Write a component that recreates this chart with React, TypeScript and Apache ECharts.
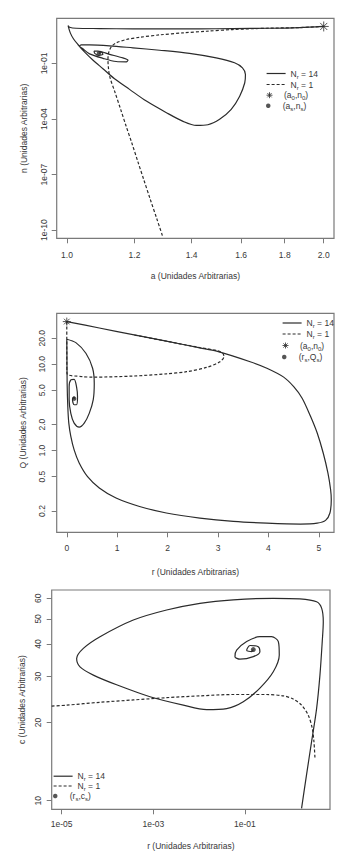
import React, { useEffect, useRef } from 'react';
import * as echarts from 'echarts';

// ---------- Panel 1: a vs n (log-log) ----------
const p1SolidA = [2.0, 1.874, 1.729, 1.565, 1.431, 1.308, 1.195, 1.092, 1.025, 1.007, 1.003, 1.009, 1.018, 1.030, 1.049, 1.073, 1.102, 1.137, 1.184, 1.239, 1.308, 1.368, 1.418, 1.463, 1.510, 1.558, 1.594, 1.616, 1.619, 1.606, 1.572, 1.496, 1.392, 1.284, 1.195, 1.122, 1.063, 1.039, 1.035, 1.044, 1.063, 1.102, 1.142, 1.174, 1.179, 1.163, 1.122, 1.087, 1.076, 1.078, 1.090, 1.102, 1.097, 1.090];
const p1SolidN = [10, 8.7, 8.0, 7.7, 7.4, 7.4, 7.4, 7.7, 8.0, 9.1, 11.2, 4.5, 2.1, 1.06, 0.41, 0.15, 0.052, 0.0149, 0.004, 9.3e-4, 2.2e-4, 7.5e-5, 4.5e-5, 4.9e-5, 9.6e-5, 3.3e-4, 0.0017, 0.0091, 0.0255, 0.058, 0.109, 0.20, 0.35, 0.52, 0.70, 0.90, 1.01, 1.01, 0.86, 0.62, 0.33, 0.19, 0.128, 0.123, 0.15, 0.20, 0.31, 0.46, 0.46, 0.35, 0.27, 0.32, 0.41, 0.35];
const p1DashA = [2.0, 1.874, 1.713, 1.565, 1.457, 1.368, 1.284, 1.217, 1.174, 1.142, 1.127, 1.119, 1.117, 1.118, 1.122, 1.139, 1.156, 1.173, 1.191, 1.212, 1.230, 1.252, 1.275, 1.296];
const p1DashN = [10, 8.7, 8.0, 6.8, 5.5, 4.5, 3.5, 2.6, 1.97, 1.30, 0.79, 0.38, 0.16, 0.072, 0.0207, 0.0026, 3.3e-4, 4.2e-5, 5.3e-6, 4.4e-7, 5.6e-8, 4.7e-9, 3.9e-10, 4e-11];
const p1Start = [2.0, 10];
const p1Steady = [1.09, 0.35];
const p1XTicks = [1.0, 1.2, 1.4, 1.6, 1.8, 2.0];
const p1XLabels = ['1.0', '1.2', '1.4', '1.6', '1.8', '2.0'];
const p1YTicks = [1e-1, 1e-4, 1e-7, 1e-10];
const p1YLabels = ['1e-01', '1e-04', '1e-07', '1e-10'];

// ---------- Panel 2: r vs Q (linear x, log y) ----------
const p2SolidR = [0, 0.645, 1.31, 1.975, 2.64, 2.972, 3.637, 3.969, 4.302, 4.501, 4.668, 4.834, 4.967, 5.086, 5.180, 5.233, 5.246, 5.219, 5.133, 4.967, 4.634, 3.969, 3.305, 2.640, 1.975, 1.443, 0.977, 0.645, 0.412, 0.246, 0.146, 0.080, 0.040, 0.020, 0.007, 0.003, 0.0, 0.18, 0.379, 0.512, 0.545, 0.525, 0.445, 0.346, 0.246, 0.146, 0.08, 0.047, 0.047, 0.08, 0.146, 0.193, 0.213, 0.193, 0.146, 0.113, 0.146, 0.15];
const p2SolidQ = [31.2, 26.3, 22.0, 18.5, 15.5, 14.2, 10.7, 9.0, 7.1, 5.5, 4.05, 2.5, 1.6, 0.94, 0.55, 0.353, 0.27, 0.19, 0.156, 0.145, 0.1415, 0.145, 0.152, 0.166, 0.19, 0.226, 0.283, 0.37, 0.50, 0.72, 1.02, 1.46, 2.08, 3.24, 6.0, 12.3, 19.5, 17.8, 13.4, 9.0, 6.0, 3.9, 2.7, 2.08, 1.87, 2.08, 2.7, 3.9, 5.5, 6.6, 6.7, 5.5, 4.2, 3.4, 3.4, 3.9, 4.2, 4.0];
const p2DashR = [0, 0, 0.003, 0.312, 0.512, 1.31, 1.975, 2.374, 2.773, 3.039, 3.118, 3.092, 2.972, 2.64, 1.975, 1.31];
const p2DashQ = [31.2, 20, 7.9, 7.2, 7.1, 7.3, 7.75, 8.2, 9.2, 10.7, 12.3, 13.4, 14.4, 15.6, 18.5, 22.0];
const p2Start = [0, 31.2];
const p2Steady = [0.146, 4.0];
const p2XTicks = [0, 1, 2, 3, 4, 5];
const p2XLabels = ['0', '1', '2', '3', '4', '5'];
const p2YTicks = [0.2, 0.5, 1, 2, 5, 10, 20];
const p2YLabels = ['0.2', '0.5', '1.0', '2.0', '5.0', '10.0', '20.0'];

// ---------- Panel 3: r vs c (log-log) ----------
const p3SolidR = [1.72, 2.21, 2.85, 3.66, 4.33, 4.86, 5.12, 4.71, 3.66, 1.58, 0.415, 0.0556, 0.0104, 1.95e-3, 3.66e-4, 6.86e-5, 2.97e-5, 2.12e-5, 2.51e-5, 4.91e-5, 1.58e-4, 8.46e-4, 4.51e-3, 0.0146, 0.0398, 0.092, 0.212, 0.415, 0.561, 0.535, 0.382, 0.212, 0.109, 0.0658, 0.0605, 0.0778, 0.152, 0.212, 0.195, 0.129, 0.109, 0.140, 0.152];
const p3SolidC = [9.35, 12.6, 16.9, 22.6, 30.4, 40.9, 48.8, 55.0, 58.2, 59.7, 60, 59.2, 57.4, 54.1, 49.5, 42.7, 38.5, 35.2, 32.7, 30.4, 27.9, 25.1, 23.3, 22.4, 22.6, 24.0, 27.1, 31.3, 36.3, 40.9, 42.7, 42.7, 40.9, 37.9, 35.8, 35.0, 35.8, 37.4, 39.1, 39.5, 37.9, 37.4, 38.1];
const p3DashR = [6.05e-6, 1.29e-5, 6.86e-5, 3.66e-4, 1.95e-3, 0.0104, 0.0556, 0.297, 0.686, 1.13, 1.72, 2.41, 2.94, 3.20, 3.37];
const p3DashC = [23.1, 23.3, 23.9, 24.4, 24.9, 25.3, 25.6, 25.6, 25.3, 24.6, 23.3, 21.3, 19.0, 16.9, 14.6];
const p3Steady = [0.152, 38.1];
const p3XTicks = [1e-5, 1e-3, 1e-1];
const p3XLabels = ['1e-05', '1e-03', '1e-01'];
const p3YTicks = [10, 20, 30, 40, 50, 60];
const p3YLabels = ['10', '20', '30', '40', '50', '60'];

// ---------- Texts ----------
const axisNames = {
  p1x: 'a (Unidades Arbitrarias)',
  p1y: 'n (Unidades Arbitrarias)',
  p2x: 'r (Unidades Arbitrarias)',
  p2y: 'Q (Unidades Arbitrarias)',
  p3x: 'r (Unidades Arbitrarias)',
  p3y: 'c (Unidades Arbitrarias)',
};
const legendLabels: Record<string, string> = {
  p1_14: '{t|N}{s|r}{t| = 14}',
  p1_1: '{t|N}{s|r}{t| = 1}',
  p1_0: '{t|(a}{s|0}{t|,n}{s|0}{t|)}',
  p1_s: '{t|(a}{s|s}{t|,n}{s|s}{t|)}',
  p2_14: '{t|N}{s|r}{t| = 14}',
  p2_1: '{t|N}{s|r}{t| = 1}',
  p2_0: '{t|(a}{s|0}{t|,n}{s|0}{t|)}',
  p2_s: '{t|(r}{s|s}{t|,Q}{s|s}{t|)}',
  p3_14: '{t|N}{s|r}{t| = 14}',
  p3_1: '{t|N}{s|r}{t| = 1}',
  p3_s: '{t|(r}{s|s}{t|,c}{s|s}{t|)}',
};

const FONT = "'Liberation Sans', Arial, Helvetica, sans-serif";
const TEXT = '#383838';
const AXIS = '#7a7a7a';
const LINE = '#2b2b2b';
const STAR = 'path://M5,0L5,10M0,5L10,5M1.46,1.46L8.54,8.54M1.46,8.54L8.54,1.46';
const DASH = [3, 2];

const lg = (v: number) => Math.log10(v);

function makeAxis(kind: 'x' | 'y', gridIndex: number, min: number, max: number, ticks: number[], labels: string[], isLog: boolean, margin: number, name: string, nameGap: number) {
  const vals = ticks.map((v) => (isLog ? lg(v) : v));
  return {
    type: 'value',
    gridIndex,
    min,
    max,
    position: kind === 'x' ? 'bottom' : 'left',
    splitLine: { show: false },
    axisLine: { show: false, onZero: false },
    axisTick: { show: true, inside: false, customValues: vals, length: 5, lineStyle: { color: AXIS, width: 1 } },
    axisLabel: {
      customValues: vals,
      formatter: (v: number) => {
        const i = vals.findIndex((t) => Math.abs(t - v) < 1e-6);
        return i >= 0 ? labels[i] : '';
      },
      color: TEXT,
      fontSize: 8.5,
      fontFamily: FONT,
      margin,
      rotate: kind === 'y' ? 90 : 0,
      hideOverlap: false,
    },
    name,
    nameLocation: 'middle',
    nameGap,
    nameMoveOverlap: false,
    nameTextStyle: { color: TEXT, fontSize: 8.5, fontFamily: FONT },
  };
}

function lineSeries(name: string, idx: number, xs: number[], ys: number[], logX: boolean, logY: boolean, dashed: boolean) {
  return {
    type: 'line',
    name,
    xAxisIndex: idx,
    yAxisIndex: idx,
    data: xs.map((x, i) => [logX ? lg(x) : x, logY ? lg(ys[i]) : ys[i]]),
    symbol: 'none',
    smooth: 0.3,
    silent: true,
    lineStyle: { color: LINE, width: 1.2, type: dashed ? DASH : 'solid' },
    itemStyle: { color: LINE },
    z: 3,
  };
}

function pointSeries(name: string, idx: number, pt: number[], logX: boolean, logY: boolean, star: boolean, size: number) {
  return {
    type: 'scatter',
    name,
    xAxisIndex: idx,
    yAxisIndex: idx,
    data: [[logX ? lg(pt[0]) : pt[0], logY ? lg(pt[1]) : pt[1]]],
    symbol: star ? STAR : 'circle',
    symbolSize: size,
    silent: true,
    itemStyle: { color: LINE, borderColor: LINE, borderWidth: star ? 1 : 0 },
    z: 4,
  };
}

const rich = {
  t: { fontSize: 8.5, fontFamily: FONT, color: TEXT, lineHeight: 12 },
  s: { fontSize: 6, fontFamily: FONT, color: TEXT, lineHeight: 6, verticalAlign: 'bottom' },
};

function legendItem(name: string, left: number, centerY: number, width: number, kind: 'solid' | 'dash' | 'star' | 'dot') {
  const isLine = kind === 'solid' || kind === 'dash';
  const h = kind === 'dot' ? 4.5 : 6;
  return {
    show: true,
    orient: 'vertical',
    left,
    top: centerY - 6,
    padding: 0,
    itemWidth: width,
    itemHeight: h,
    selectedMode: false,
    formatter: (n: string) => legendLabels[n],
    textStyle: { color: TEXT, fontSize: 8.5, fontFamily: FONT, rich },
    data: [
      isLine
        ? {
            name,
            itemStyle: { color: 'rgba(0,0,0,0)', borderColor: 'rgba(0,0,0,0)', borderWidth: 0 },
            lineStyle: { color: LINE, width: 1.2, type: kind === 'dash' ? DASH : 'solid' },
          }
        : {
            name,
            itemStyle: { color: LINE, borderColor: LINE, borderWidth: kind === 'star' ? 1 : 0 },
          },
    ],
  };
}

function buildOption() {
  const gridBase = { show: true, borderColor: AXIS, borderWidth: 1.2, backgroundColor: 'transparent', containLabel: false, outerBoundsMode: 'none' };
  return {
    animation: false,
    backgroundColor: '#ffffff',
    grid: [
      { ...gridBase, left: 56.7, top: 18.3, width: 277.3, height: 220 },
      { ...gridBase, left: 56.7, top: 313.3, width: 277.3, height: 219 },
      { ...gridBase, left: 51.7, top: 590, width: 278.3, height: 219.3 },
    ],
    xAxis: [
      makeAxis('x', 0, -0.01204, 0.31307, p1XTicks, p1XLabels, true, 12, axisNames.p1x, 33),
      makeAxis('x', 1, -0.2, 5.3, p2XTicks, p2XLabels, false, 11.5, axisNames.p2x, 35),
      makeAxis('x', 2, -5.218, 0.856, p3XTicks, p3XLabels, true, 10.5, axisNames.p3x, 32),
    ],
    yAxis: [
      makeAxis('y', 0, -10.44, 1.44, p1YTicks, p1YLabels, true, 8.5, axisNames.p1y, 28.5),
      makeAxis('y', 1, -0.945, 1.59, p2YTicks, p2YLabels, true, 10, axisNames.p2y, 29),
      makeAxis('y', 2, 0.967, 1.81, p3YTicks, p3YLabels, true, 9.5, axisNames.p3y, 25),
    ],
    legend: [
      legendItem('p1_14', 266, 75, 19, 'solid'),
      legendItem('p1_1', 266, 86, 19, 'dash'),
      legendItem('p1_0', 266, 96.7, 19, 'star'),
      legendItem('p1_s', 266, 107.3, 19, 'dot'),
      legendItem('p2_14', 282, 324.5, 19, 'solid'),
      legendItem('p2_1', 282, 335.5, 19, 'dash'),
      legendItem('p2_0', 282, 347, 19, 'star'),
      legendItem('p2_s', 282, 358.5, 19, 'dot'),
      legendItem('p3_14', 53, 777.7, 19, 'solid'),
      legendItem('p3_1', 53, 787.5, 19, 'dash'),
      legendItem('p3_s', 53, 797.5, 19, 'dot'),
    ],
    series: [
      lineSeries('p1_14', 0, p1SolidA, p1SolidN, true, true, false),
      lineSeries('p1_1', 0, p1DashA, p1DashN, true, true, true),
      pointSeries('p1_0', 0, p1Start, true, true, true, 10),
      pointSeries('p1_s', 0, p1Steady, true, true, false, 4.5),
      lineSeries('p2_14', 1, p2SolidR, p2SolidQ, false, true, false),
      lineSeries('p2_1', 1, p2DashR, p2DashQ, false, true, true),
      pointSeries('p2_0', 1, p2Start, false, true, true, 8),
      pointSeries('p2_s', 1, p2Steady, false, true, false, 4.5),
      lineSeries('p3_14', 2, p3SolidR, p3SolidC, true, true, false),
      lineSeries('p3_1', 2, p3DashR, p3DashC, true, true, true),
      pointSeries('p3_s', 2, p3Steady, true, true, false, 5),
    ],
  };
}

export default function App() {
  const ref = useRef<HTMLDivElement>(null);
  useEffect(() => {
    if (!ref.current) return;
    const chart = echarts.init(ref.current, null, { renderer: 'svg' });
    chart.setOption(buildOption() as any);
    return () => chart.dispose();
  }, []);
  return (
    <div
      ref={ref}
      style={{ position: 'fixed', left: 0, top: 0, width: 346, height: 864, background: '#fff' }}
    />
  );
}
